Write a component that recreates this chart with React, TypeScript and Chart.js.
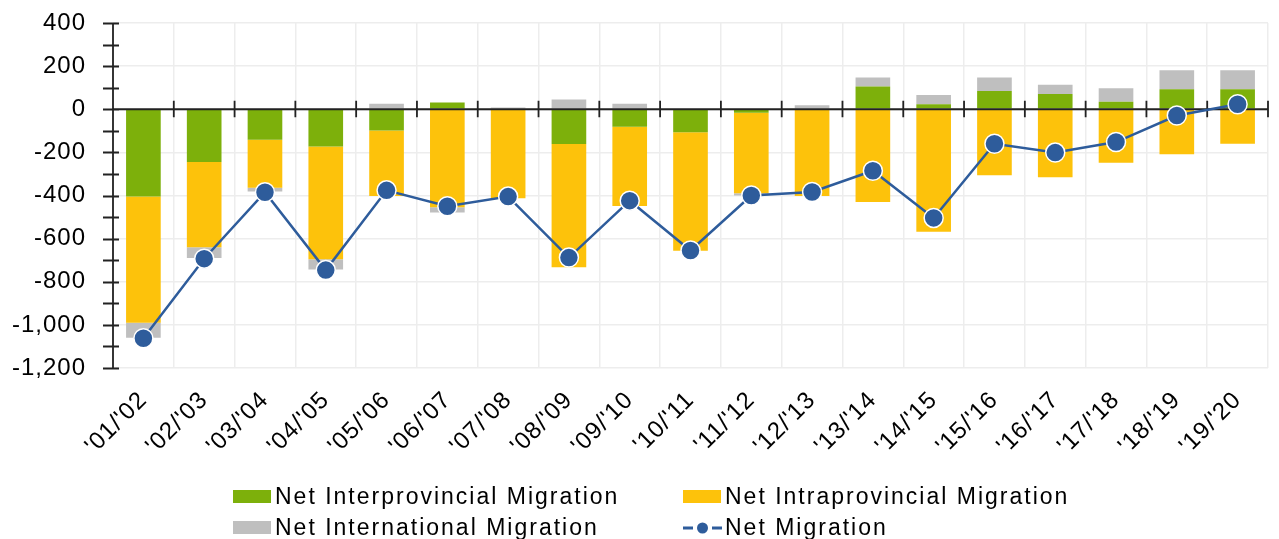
import { useEffect, useRef } from 'react';
import { Chart, registerables } from 'chart.js';

Chart.register(...registerables);

const categories = ["'01/'02", "'02/'03", "'03/'04", "'04/'05", "'05/'06", "'06/'07", "'07/'08", "'08/'09", "'09/'10", "'10/'11", "'11/'12", "'12/'13", "'13/'14", "'14/'15", "'15/'16", "'16/'17", "'17/'18", "'18/'19", "'19/'20"];
const interprovincial = [-405, -245, -142, -173, -99, 31, 3, -161, -81, -107, -16, -3, 105, 23, 85, 71, 35, 93, 93];
const intraprovincial = [-585, -395, -222, -523, -303, -455, -413, -572, -368, -549, -374, -399, -430, -568, -306, -315, -248, -209, -160];
const international = [-70, -50, -18, -47, 26, -24, 5, 45, 26, 0, -10, 19, 42, 43, 62, 43, 62, 88, 88];
const netMigration = [-1062, -693, -385, -746, -376, -450, -405, -688, -424, -655, -400, -384, -285, -504, -160, -201, -152, -29, 23];
const seriesNames = ['Net Interprovincial Migration', 'Net Intraprovincial Migration', 'Net International Migration', 'Net Migration'];
const yMin = -1200;
const yMax = 400;

const FONT = '"Liberation Sans", Arial, sans-serif';
const GREEN = '#7db00b';
const YELLOW = '#fdc20b';
const GRAY = '#bfbfbf';
const BLUE = '#2e5c9b';
const GRID = '#ededed';

const spacingPlugin = {
  id: 'spacing',
  beforeUpdate(chart: any) { chart.ctx.letterSpacing = '1px'; },
  beforeDraw(chart: any) { chart.ctx.letterSpacing = '1px'; },
};

const axesPlugin = {
  id: 'axesCross',
  beforeDatasetDraw(chart: any, args: any) {
    if (args.meta.type !== 'line') return;
    const { ctx, chartArea } = chart;
    const xs = chart.scales.x;
    const ys = chart.scales.y;
    const zero = ys.getPixelForValue(0);
    ctx.save();
    ctx.strokeStyle = '#222';
    ctx.lineWidth = 1.8;
    ctx.beginPath();
    ctx.moveTo(chartArea.left, chartArea.top);
    ctx.lineTo(chartArea.left, chartArea.bottom);
    for (let v = yMin; v <= yMax; v += 100) {
      const y = Math.round(ys.getPixelForValue(v)) + 0.5;
      ctx.moveTo(chartArea.left - 10, y);
      ctx.lineTo(chartArea.left + 6, y);
    }
    ctx.moveTo(chartArea.left, zero);
    ctx.lineTo(chartArea.right, zero);
    const n = categories.length;
    for (let k = 1; k <= n; k++) {
      const x = xs.left + (k * (xs.right - xs.left)) / n;
      ctx.moveTo(x, zero - 8.5);
      ctx.lineTo(x, zero + 8);
    }
    ctx.stroke();
    ctx.restore();
  },
};

const legendPlugin = {
  id: 'customLegend',
  afterDraw(chart: any) {
    const ctx = chart.ctx;
    const ds = chart.data.datasets;
    const spots = [
      { x: 233, y: 497 },
      { x: 683, y: 497 },
      { x: 233, y: 528 },
      { x: 683, y: 528 },
    ];
    ctx.save();
    ctx.letterSpacing = '2px';
    ctx.font = `23px ${FONT}`;
    ctx.textBaseline = 'middle';
    ctx.textAlign = 'left';
    ds.forEach((d: any, i: number) => {
      const p = spots[i];
      if (d.type === 'line') {
        ctx.strokeStyle = d.borderColor;
        ctx.lineWidth = 3;
        ctx.beginPath();
        ctx.moveTo(p.x, p.y);
        ctx.lineTo(p.x + 10, p.y);
        ctx.moveTo(p.x + 29, p.y);
        ctx.lineTo(p.x + 39, p.y);
        ctx.stroke();
        ctx.fillStyle = d.pointBackgroundColor;
        ctx.beginPath();
        ctx.arc(p.x + 19.5, p.y, 5.5, 0, Math.PI * 2);
        ctx.fill();
      } else {
        ctx.fillStyle = d.backgroundColor;
        ctx.fillRect(p.x, p.y - 7, 38, 13);
      }
      ctx.fillStyle = '#000';
      ctx.fillText(d.label, p.x + 42, p.y + 1);
    });
    ctx.restore();
  },
};

export default function App() {
  const ref = useRef<HTMLCanvasElement | null>(null);
  useEffect(() => {
    document.body.style.margin = '0';
    const canvas = ref.current;
    if (!canvas) return;
    const barCommon = { stack: 'bars', order: 1, barPercentage: 0.57, categoryPercentage: 1 };
    const chart = new Chart(canvas, {
      type: 'bar',
      data: {
        labels: categories,
        datasets: [
          { label: seriesNames[0], data: interprovincial, backgroundColor: GREEN, ...barCommon },
          { label: seriesNames[1], data: intraprovincial, backgroundColor: YELLOW, ...barCommon },
          { label: seriesNames[2], data: international, backgroundColor: GRAY, ...barCommon },
          {
            type: 'line',
            label: seriesNames[3],
            data: netMigration,
            stack: 'line',
            order: 0,
            borderColor: BLUE,
            borderWidth: 2.5,
            pointRadius: 9.5,
            pointBackgroundColor: BLUE,
            pointBorderColor: '#ffffff',
            pointBorderWidth: 1.5,
            tension: 0,
          } as any,
        ],
      },
      options: {
        animation: false,
        responsive: true,
        maintainAspectRatio: false,
        layout: { padding: { top: 23, right: 2, bottom: 0, left: 0 } },
        plugins: { legend: { display: false }, tooltip: { enabled: false } },
        scales: {
          x: {
            stacked: true,
            grid: { color: GRID, lineWidth: 1.5, offset: true, drawTicks: false },
            border: { display: false },
            ticks: {
              autoSkip: false,
              minRotation: 45,
              maxRotation: 45,
              padding: 18,
              color: '#000',
              font: { family: FONT, size: 24 },
            },
            afterFit: (s: any) => { s.height = 171; s.paddingLeft = 0; s.paddingRight = 0; },
          },
          y: {
            stacked: true,
            min: yMin,
            max: yMax,
            grid: { color: GRID, lineWidth: 1.5, tickLength: 10, tickColor: 'rgba(0,0,0,0)' },
            border: { display: false },
            ticks: {
              stepSize: 100,
              padding: 17,
              color: '#000',
              font: { family: FONT, size: 24 },
              callback: (v: any) => (Number(v) % 200 === 0 ? Number(v).toLocaleString('en-US') : ''),
            },
            afterFit: (s: any) => { s.width = 113; s.paddingTop = 0; s.paddingBottom = 0; },
          },
        },
      } as any,
      plugins: [spacingPlugin, axesPlugin, legendPlugin],
    });
    return () => chart.destroy();
  }, []);
  return (
    <div style={{ position: 'relative', width: '1279px', height: '539px' }}>
      <canvas ref={ref} />
    </div>
  );
}
